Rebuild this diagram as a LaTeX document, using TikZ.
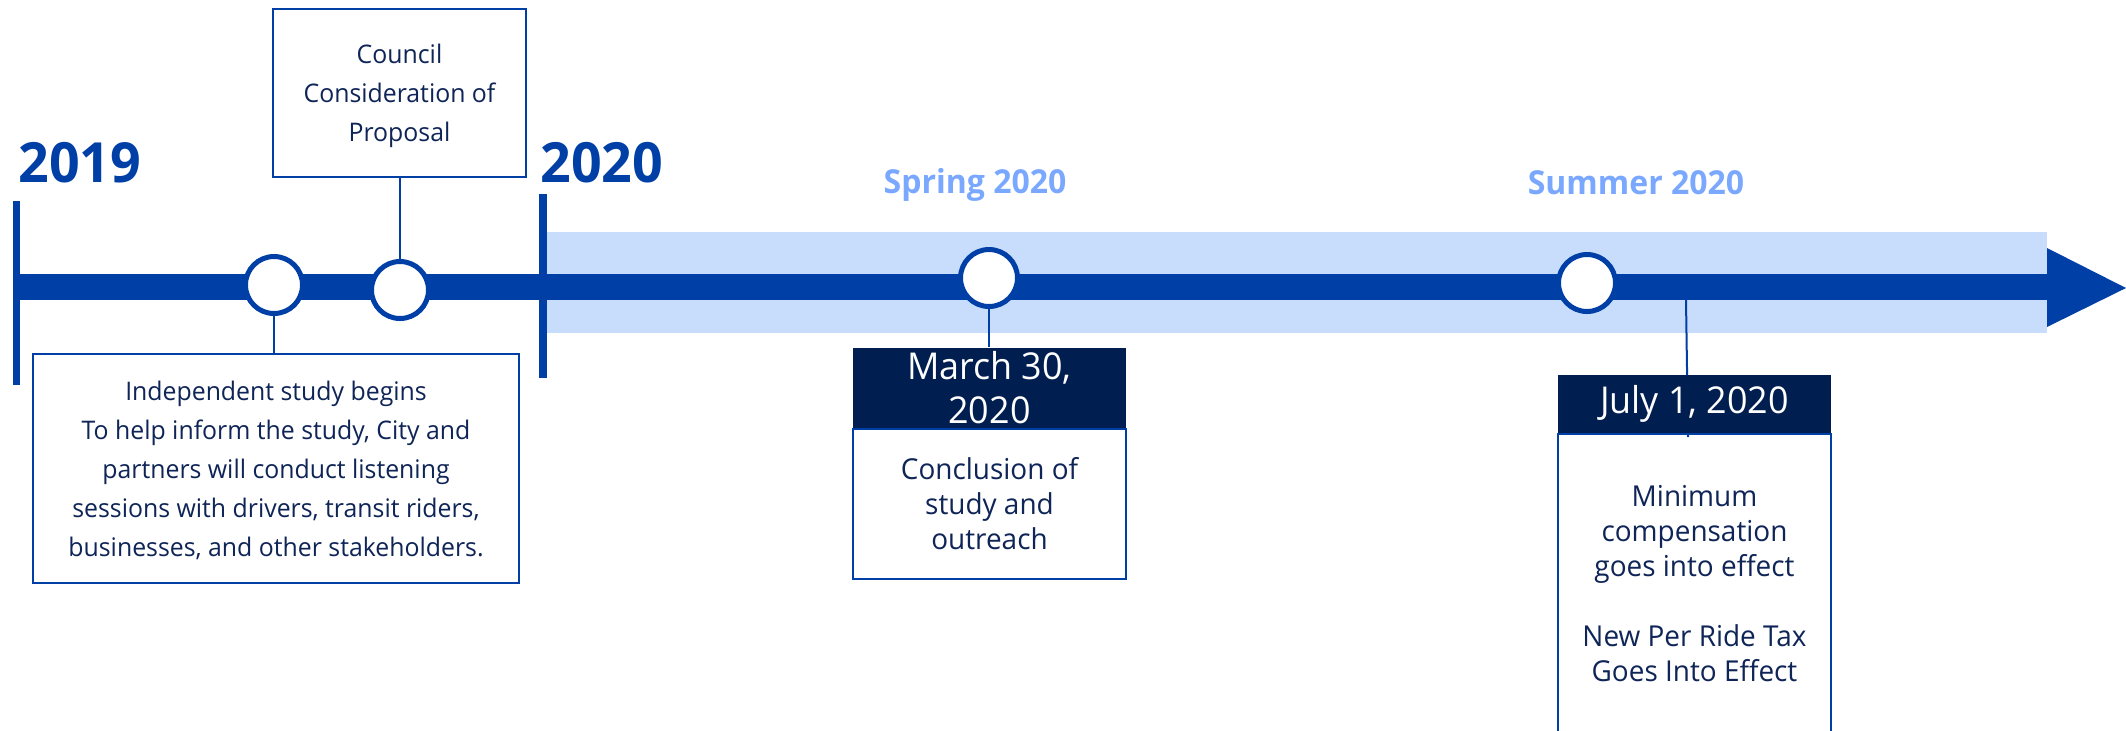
\documentclass[tikz,border=0pt]{standalone}
\usepackage{fontspec}
\setmainfont[FakeStretch=0.97]{Open Sans}
\usepackage{tikz}
\usetikzlibrary{positioning, calc}
\definecolor{lineBlue}{HTML}{003FA5}
\definecolor{bandBlue}{HTML}{C8DCFB}
\definecolor{seasonBlue}{HTML}{7AA8FF}
\definecolor{headNavy}{HTML}{001E50}
\definecolor{textNavy}{HTML}{0F2557}
\tikzset{
	milestone/.style={circle, draw=lineBlue, fill=white, line width=2.5pt, minimum size=28.5pt, inner sep=0pt},
	notebox/.style={draw=lineBlue, fill=white, line width=1pt, inner sep=0pt, align=center, text=textNavy},
	smallnote/.style={notebox, text depth=-3pt, font=\fontsize{12.8}{19.5}\selectfont},
	datehead/.style={fill=headNavy, text=white, inner sep=0pt, align=center, minimum width=136.5pt, font=\fontsize{18.5}{22}\selectfont},
	yearlabel/.style={anchor=base west, inner sep=0pt, text=lineBlue, font=\fontsize{27.7}{30}\selectfont\bfseries},
	seasonlabel/.style={anchor=base, inner sep=0pt, text=seasonBlue, font=\fontsize{16.5}{19}\selectfont\bfseries},
	link/.style={draw=lineBlue, line width=1pt}
}

\begin{document}
\begin{tikzpicture}[x=0.5pt, y=-0.5pt]
	\useasboundingbox (0,0) rectangle (2126,730);
	\clip (0,0) rectangle (2126,730);

	\coordinate (start) at (16.5,287);
	\coordinate (split) at (543,287);
	\coordinate (tip) at (2047,287);
	\coordinate (julytick) at (1686,300);

	% light band after 2020 and the main bar
	\fill[bandBlue] ($ (split)+(4,-55) $) rectangle ($ (tip)+(0,46) $);
	\fill[lineBlue] ($ (start)+(0,-13) $) rectangle ($ (tip)+(0,13) $);
	\fill[lineBlue] ($ (tip)+(0,-39) $) -- (2126,288) -- ($ (tip)+(0,40) $) -- cycle;
	\draw[lineBlue, line width=3.5pt] (16.5,201) -- (16.5,385);
	\draw[lineBlue, line width=4pt] (543,194) -- (543,378);

	\node[yearlabel] (y2019) at (18,182) {2019};
	\node[yearlabel] (y2020) at (540,182) {2020};
	\node[seasonlabel] (spring) at (975,193) {Spring 2020};
	\node[seasonlabel] (summer) at (1636,194) {Summer 2020};

	% 2019 events
	\node[smallnote, minimum width=126.5pt, minimum height=84pt] (council) at (399.5,93)
		{Council\\Consideration of\\Proposal};
	\node[smallnote, minimum width=243pt, minimum height=114.5pt] (indep) at (276,468.5)
		{Independent study begins\\To help inform the study, City and\\partners will conduct listening\\sessions with drivers, transit riders,\\businesses, and other stakeholders.};
	\node[milestone] (c1) at (274,285) {};
	\node[milestone] (c2) at (400,290) {};
	\draw[link] (c1.south) -- (c1.south |- indep.north);
	\draw[link] (c2.north) -- (c2.north |- council.south);

	% spring
	\node[milestone] (c3) at (989,278) {};
	\node[notebox, anchor=north, minimum width=136.5pt, minimum height=75pt, font=\fontsize{14.4}{17.5}\selectfont] (marchnote) at (989.5,428)
		{Conclusion of\\study and\\outreach};
	\node[datehead, minimum height=40pt, above=0pt of marchnote] (marchhead) {March 30,\\2020};
	\draw[link] (c3.south) -- (c3.south |- marchhead.north);

	% summer
	\node[milestone] (c4) at (1587,283) {};
	\node[notebox, anchor=north, minimum width=136.5pt, minimum height=150pt, font=\fontsize{14.4}{17.5}\selectfont] (julynote) at (1694.5,433)
		{Minimum\\compensation\\goes into effect\\[17.5pt]New Per Ride Tax\\Goes Into Effect};
	\draw[link] (julytick) -- ($ (julytick |- julynote.north)+(2,4) $);
	\node[datehead, minimum height=29pt, above=0pt of julynote] (julyhead) {July 1, 2020};

\end{tikzpicture}
\end{document}
